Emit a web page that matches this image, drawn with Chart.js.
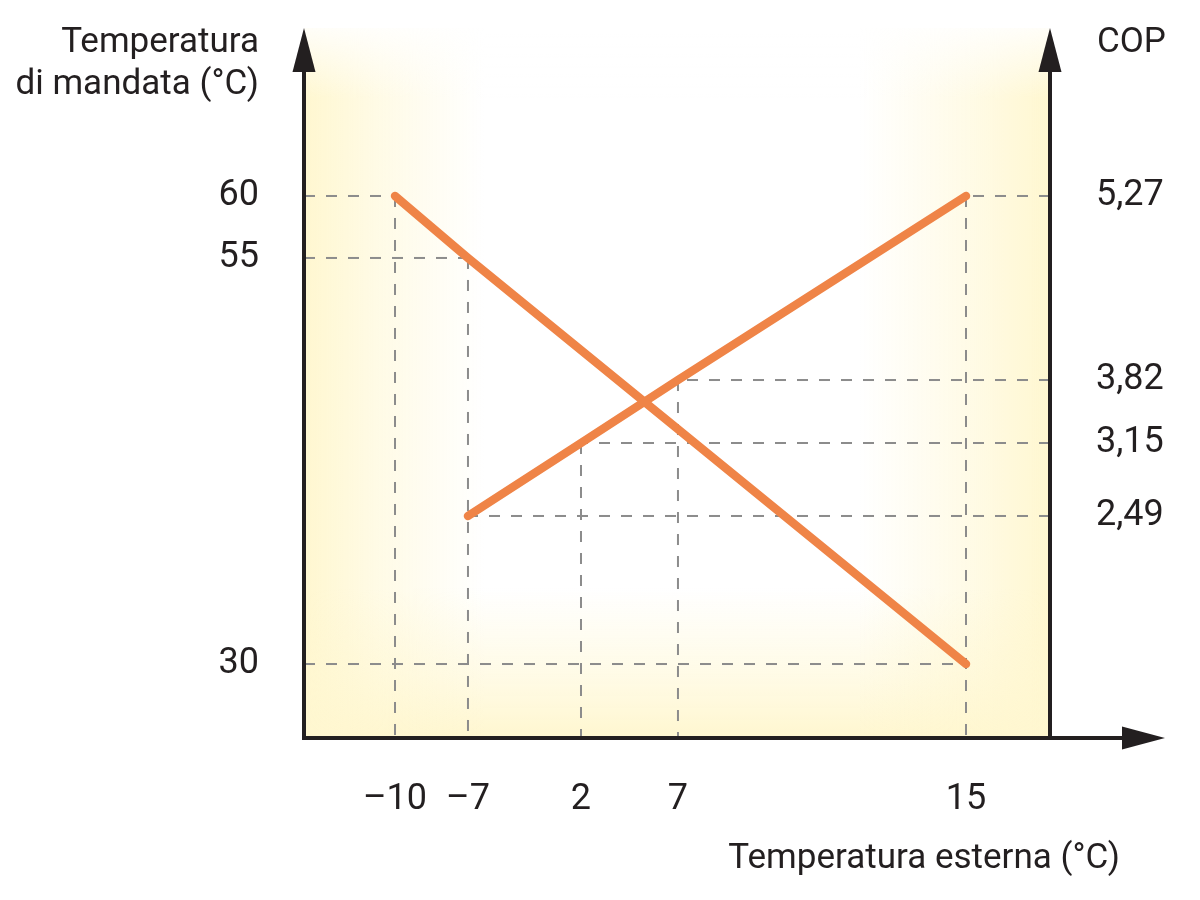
<!DOCTYPE html>
<html lang="it">
<head>
<meta charset="utf-8">
<title>Temperatura di mandata e COP</title>
<script src="https://cdn.jsdelivr.net/npm/chart.js@4.4.1/dist/chart.umd.min.js"></script>
<style>
  html, body { margin: 0; padding: 0; background: #fff; }
</style>
</head>
<body>
<canvas id="chart" width="1200" height="900"></canvas>
<script>
/************************ DATA ************************** */
// temperatura esterna (°C)
const tempEsterna = [-10, -7, 2, 7, 15];
const xTickLabels = ["–10", "–7", "2", "7", "15"];

// temperatura di mandata (°C)
const mandataX = [-10, -7, 15];
const mandataY = [60, 55, 30];
const mandataTicks = [30, 55, 60];
const mandataTickLabels = ["30", "55", "60"];

// COP
const copX = [-7, 2, 7, 15];
const copY = [2.49, 3.15, 3.82, 5.27];
const copTicks = [2.49, 3.15, 3.82, 5.27];
const copTickLabels = ["2,49", "3,15", "3,82", "5,27"];

/************************ SCHEMATIC AXES ************************** */
// the drawing is not to scale: each axis places its tick values at
// fixed fractions of its length and interpolates in between
const axisStops = {
  x: { values: tempEsterna, stops: [0.122, 0.2198, 0.3713, 0.5013, 0.8874] },
  y: { values: mandataTicks, stops: [0.1042, 0.6761, 0.7634] },
  y1: { values: copTicks, stops: [0.3127, 0.4155, 0.5042, 0.7634] },
};

function segment(arr, v) {
  let i = 0;
  while (i < arr.length - 2 && v > arr[i + 1]) i++;
  return i;
}

function toDecimal(a, v) {
  const i = segment(a.values, v);
  const t = (v - a.values[i]) / (a.values[i + 1] - a.values[i]);
  return a.stops[i] + t * (a.stops[i + 1] - a.stops[i]);
}

function fromDecimal(a, d) {
  const i = segment(a.stops, d);
  const t = (d - a.stops[i]) / (a.stops[i + 1] - a.stops[i]);
  return a.values[i] + t * (a.values[i + 1] - a.values[i]);
}

class SchematicScale extends Chart.LinearScale {
  static id = "schematic";
  static defaults = Chart.LinearScale.defaults;

  getPixelForValue(value) {
    if (value === null || isNaN(value)) return NaN;
    return this.getPixelForDecimal(toDecimal(axisStops[this.id], value));
  }

  getValueForPixel(pixel) {
    return fromDecimal(axisStops[this.id], this.getDecimalForPixel(pixel));
  }
}
Chart.register(SchematicScale);

/************************ STYLE ************************** */
const INK = "#231f20";
const ORANGE = "#ef8447";
const GUIDE = "#8c8c8c";
const YELLOW = "255,247,208";

Chart.defaults.font.family = "Roboto, 'Liberation Sans', sans-serif";
Chart.defaults.font.size = 36;
Chart.defaults.color = INK;

function points(xs, ys) {
  return xs.map((x, i) => ({ x: x, y: ys[i] }));
}

function fixedTicks(values) {
  return (scale) => {
    scale.ticks = values.map((v) => ({ value: v }));
  };
}

// fixed box size, no extra room for overflowing labels
function fixedSize(w, h) {
  return (scale) => {
    if (w !== null) scale.width = w;
    if (h !== null) scale.height = h;
    scale.paddingTop = 0;
    scale.paddingBottom = 0;
    scale.paddingLeft = 0;
    scale.paddingRight = 0;
  };
}

/************************ PLUGIN ************************** */
function band(ctx, x0, y0, x1, y1, x, y, w, h) {
  const g = ctx.createLinearGradient(x0, y0, x1, y1);
  g.addColorStop(0, `rgba(${YELLOW},1)`);
  g.addColorStop(0.4, `rgba(${YELLOW},0.55)`);
  g.addColorStop(1, `rgba(${YELLOW},0)`);
  ctx.fillStyle = g;
  ctx.fillRect(x, y, w, h);
}

const schemaPlugin = {
  id: "schema",
  beforeDatasetsDraw(chart) {
    const ctx = chart.ctx;
    const { left, right, top, bottom } = chart.chartArea;
    const h = bottom - top;
    ctx.save();

    // soft yellow edges of the plot box
    ctx.globalCompositeOperation = "darken";
    band(ctx, left, 0, left + 180, 0, left, top, 180, h);
    band(ctx, right, 0, right - 190, 0, right - 190, top, 190, h);
    band(ctx, 0, bottom, 0, bottom - 150, left, bottom - 150, right - left, 150);
    ctx.globalCompositeOperation = "source-over";

    const g = ctx.createLinearGradient(0, top, 0, top + 70);
    g.addColorStop(0, "rgba(255,255,255,0.85)");
    g.addColorStop(1, "rgba(255,255,255,0)");
    ctx.fillStyle = g;
    ctx.fillRect(left, top, right - left, 70);

    // dashed reference lines
    ctx.strokeStyle = GUIDE;
    ctx.lineWidth = 2;
    ctx.setLineDash([11, 11]);
    const xs = chart.scales.x;
    const topmost = {};
    chart.data.datasets.forEach((ds) => {
      const ys = chart.scales[ds.yAxisID];
      const edge = ds.yAxisID === "y" ? left : right;
      ds.data.forEach((p) => {
        const px = xs.getPixelForValue(p.x);
        const py = ys.getPixelForValue(p.y);
        ctx.beginPath();
        ctx.moveTo(edge, py);
        ctx.lineTo(px, py);
        ctx.stroke();
        if (topmost[p.x] === undefined || py < topmost[p.x]) topmost[p.x] = py;
      });
    });
    Object.keys(topmost).forEach((k) => {
      const px = xs.getPixelForValue(Number(k));
      ctx.beginPath();
      ctx.moveTo(px, topmost[k]);
      ctx.lineTo(px, bottom);
      ctx.stroke();
    });
    ctx.restore();
  },
  afterDatasetsDraw(chart) {
    const ctx = chart.ctx;
    const { left, right, top, bottom } = chart.chartArea;
    ctx.save();
    ctx.strokeStyle = INK;
    ctx.fillStyle = INK;
    ctx.lineWidth = 4;
    ctx.setLineDash([]);

    // axes
    ctx.beginPath();
    ctx.moveTo(left, bottom + 2);
    ctx.lineTo(left, top + 40);
    ctx.moveTo(right, bottom + 2);
    ctx.lineTo(right, top + 40);
    ctx.moveTo(left - 2, bottom);
    ctx.lineTo(right + 75, bottom);
    ctx.stroke();

    // arrow heads
    const arrowUp = (x) => {
      ctx.beginPath();
      ctx.moveTo(x, top);
      ctx.lineTo(x + 11.5, top + 44);
      ctx.lineTo(x - 11.5, top + 44);
      ctx.closePath();
      ctx.fill();
    };
    arrowUp(left);
    arrowUp(right);
    const tipX = right + 115;
    ctx.beginPath();
    ctx.moveTo(tipX, bottom);
    ctx.lineTo(tipX - 43, bottom - 11.5);
    ctx.lineTo(tipX - 43, bottom + 11.5);
    ctx.closePath();
    ctx.fill();

    // axis titles
    ctx.font = "35px Roboto, 'Liberation Sans', sans-serif";
    ctx.textBaseline = "alphabetic";
    ctx.textAlign = "right";
    ctx.fillText("Temperatura", left - 45, top + 24);
    ctx.fillText("di mandata (°C)", left - 45, top + 66);
    ctx.textAlign = "left";
    ctx.fillText("COP", right + 47, top + 24);
    ctx.textAlign = "right";
    ctx.fillText("Temperatura esterna (°C)", right + 70, bottom + 130);
    ctx.restore();
  },
};

/************************ CHART ************************** */
const ctx = document.getElementById("chart");
const config = {
  type: "line",
  data: {
    datasets: [
      {
        label: "Temperatura di mandata",
        data: points(mandataX, mandataY),
        yAxisID: "y",
        borderColor: ORANGE,
        borderWidth: 8.5,
        borderCapStyle: "round",
        borderJoinStyle: "round",
        pointRadius: 0,
        tension: 0,
      },
      {
        label: "COP",
        data: points(copX, copY),
        yAxisID: "y1",
        borderColor: ORANGE,
        borderWidth: 8.5,
        borderCapStyle: "round",
        borderJoinStyle: "round",
        pointRadius: 0,
        tension: 0,
      },
    ],
  },
  options: {
    responsive: false,
    animation: false,
    layout: { padding: { top: 28, left: 0, right: 0, bottom: 0 } },
    scales: {
      x: {
        type: "schematic",
        position: "bottom",
        min: -14,
        max: 18,
        grid: { display: false, drawTicks: false },
        border: { display: false },
        afterBuildTicks: fixedTicks(tempEsterna),
        afterFit: fixedSize(null, 162),
        ticks: {
          autoSkip: false,
          maxRotation: 0,
          padding: 40,
          callback: (v, i) => xTickLabels[i],
        },
      },
      y: {
        type: "schematic",
        position: "left",
        min: 20,
        max: 70,
        grid: { display: false, drawTicks: false },
        border: { display: false },
        afterBuildTicks: fixedTicks(mandataTicks),
        afterFit: fixedSize(304, null),
        ticks: {
          autoSkip: false,
          padding: 45,
          callback: (v, i) => mandataTickLabels[i],
        },
      },
      y1: {
        type: "schematic",
        position: "right",
        min: 1.5,
        max: 6,
        grid: { display: false, drawTicks: false },
        border: { display: false },
        afterBuildTicks: fixedTicks(copTicks),
        afterFit: fixedSize(150, null),
        ticks: {
          autoSkip: false,
          padding: 46,
          callback: (v, i) => copTickLabels[i],
        },
      },
    },
    plugins: {
      legend: { display: false },
      tooltip: { enabled: false },
    },
  },
  plugins: [schemaPlugin],
};

let myChart = new Chart(ctx, config);
</script>
</body>
</html>
